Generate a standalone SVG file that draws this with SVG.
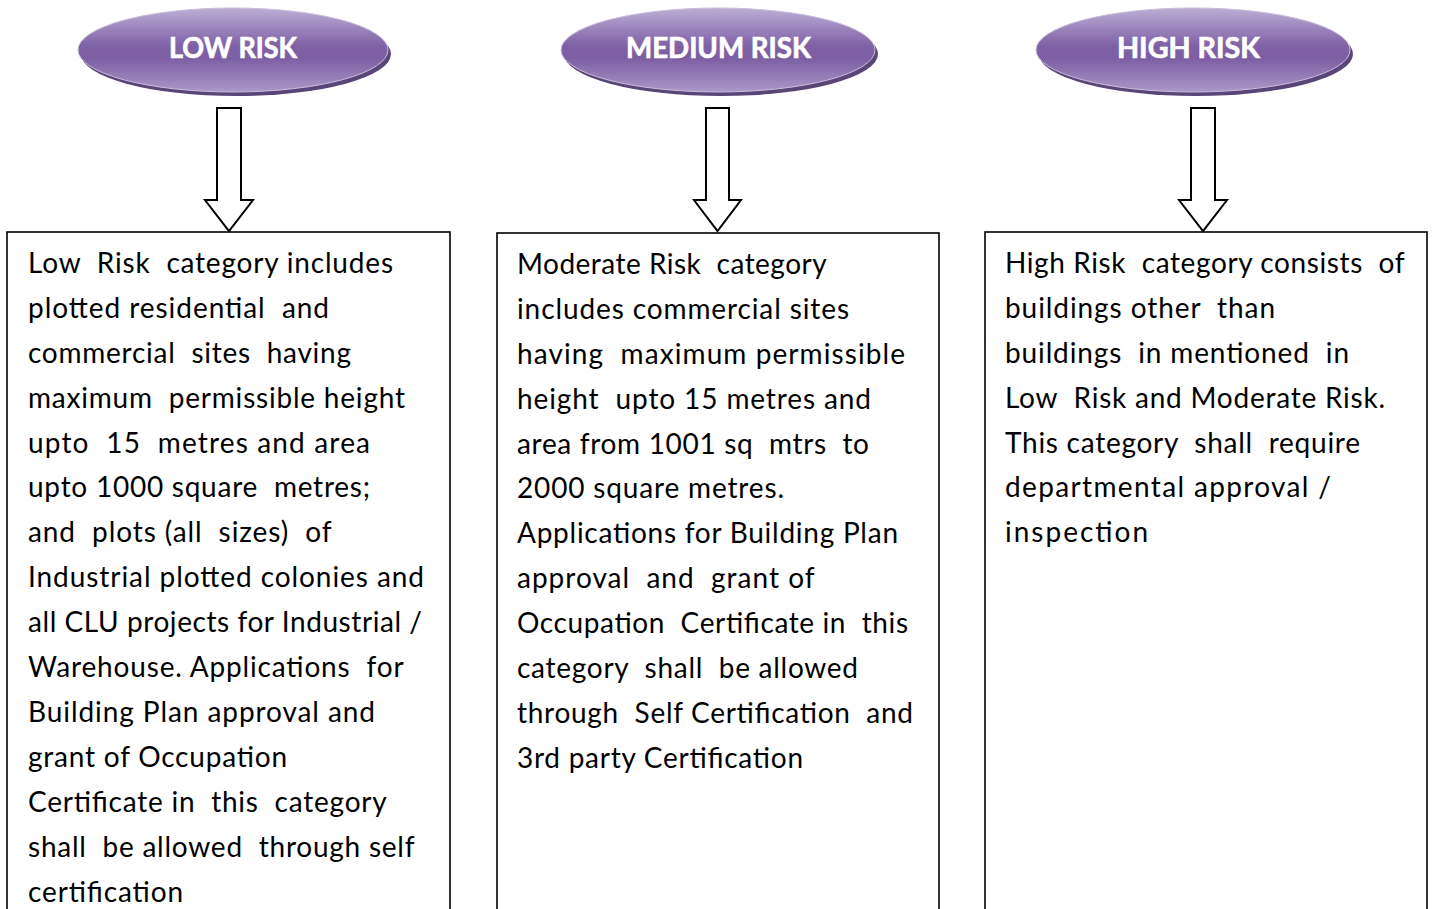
<svg xmlns="http://www.w3.org/2000/svg" width="1435" height="909" viewBox="0 0 1435 909">
<style>
.body{font-family:Lato,"Liberation Sans",sans-serif;font-size:28px;fill:#000}
.hdr{font-family:Lato,"Liberation Sans",sans-serif;font-size:29px;font-weight:bold;fill:#fff;stroke:#fff;stroke-width:0.7}
.box{fill:#fff;stroke:#000;stroke-width:1.6}
.arrow{fill:#fff;stroke:#000;stroke-width:2;stroke-linejoin:miter}
.shadow{fill:#5a4578}
.ell{fill:url(#pg);stroke:#c9bddc;stroke-width:1}
</style>
<defs>
<linearGradient id="pg" x1="0" y1="0" x2="0" y2="1">
<stop offset="0" stop-color="#bcaed6"/>
<stop offset="0.45" stop-color="#7f62a6"/>
<stop offset="0.6" stop-color="#7c5fa3"/>
<stop offset="1" stop-color="#ab98c9"/>
</linearGradient>
</defs>
<rect width="1435" height="909" fill="#fff"/>

<g id="connectors">
<polygon class="arrow" points="217,108 241,108 241,200 253,200 229,231 205,200 217,200"/>
<polygon class="arrow" points="706,108 729,108 729,200 741,200 717.5,231 694,200 706,200"/>
<polygon class="arrow" points="1191,108 1215,108 1215,200 1227,200 1203,231 1179,200 1191,200"/>
</g>

<g id="low-risk-header">
<ellipse class="shadow" cx="236" cy="54" rx="155" ry="42"/>
<ellipse class="ell" cx="233" cy="50" rx="155" ry="42"/>
<text class="hdr" x="233" y="58" text-anchor="middle" textLength="128" lengthAdjust="spacingAndGlyphs">LOW RISK</text>
</g>
<g id="medium-risk-header">
<ellipse class="shadow" cx="721" cy="54" rx="157" ry="42"/>
<ellipse class="ell" cx="718" cy="50" rx="157" ry="42"/>
<text class="hdr" x="718.5" y="58" text-anchor="middle" textLength="185" lengthAdjust="spacingAndGlyphs">MEDIUM RISK</text>
</g>
<g id="high-risk-header">
<ellipse class="shadow" cx="1196" cy="54" rx="157" ry="42"/>
<ellipse class="ell" cx="1193" cy="50" rx="157" ry="42"/>
<text class="hdr" x="1188.5" y="58" text-anchor="middle" textLength="143" lengthAdjust="spacingAndGlyphs">HIGH RISK</text>
</g>

<g id="low-risk-box">
<rect class="box" x="7" y="232" width="443" height="700"/>
<text class="body" xml:space="preserve">
<tspan x="28" y="273" textLength="365">Low  Risk  category includes</tspan>
<tspan x="28" y="318" textLength="301">plotted residential  and</tspan>
<tspan x="28" y="363" textLength="323">commercial  sites  having</tspan>
<tspan x="28" y="408" textLength="377">maximum  permissible height</tspan>
<tspan x="28" y="453" textLength="342">upto  15  metres and area</tspan>
<tspan x="28" y="497" textLength="342">upto 1000 square  metres;</tspan>
<tspan x="28" y="542" textLength="303">and  plots (all  sizes)  of</tspan>
<tspan x="28" y="587" textLength="396">Industrial plotted colonies and</tspan>
<tspan x="28" y="632" textLength="394">all CLU projects for Industrial /</tspan>
<tspan x="28" y="677" textLength="375">Warehouse. Applications  for</tspan>
<tspan x="28" y="722" textLength="347">Building Plan approval and</tspan>
<tspan x="28" y="767" textLength="259">grant of Occupation</tspan>
<tspan x="28" y="812" textLength="358">Certificate in  this  category</tspan>
<tspan x="28" y="857" textLength="386">shall  be allowed  through self</tspan>
<tspan x="28" y="902" textLength="155">certification</tspan>
</text>
</g>

<g id="medium-risk-box">
<rect class="box" x="497" y="233" width="442" height="700"/>
<text class="body" xml:space="preserve">
<tspan x="517" y="274" textLength="309">Moderate Risk  category</tspan>
<tspan x="517" y="319" textLength="332">includes commercial sites</tspan>
<tspan x="517" y="364" textLength="388">having  maximum permissible</tspan>
<tspan x="517" y="409" textLength="354">height  upto 15 metres and</tspan>
<tspan x="517" y="454" textLength="352">area from 1001 sq  mtrs  to</tspan>
<tspan x="517" y="498" textLength="267">2000 square metres.</tspan>
<tspan x="517" y="543" textLength="381">Applications for Building Plan</tspan>
<tspan x="517" y="588" textLength="297">approval  and  grant of</tspan>
<tspan x="517" y="633" textLength="391">Occupation  Certificate in  this</tspan>
<tspan x="517" y="678" textLength="341">category  shall  be allowed</tspan>
<tspan x="517" y="723" textLength="396">through  Self Certification  and</tspan>
<tspan x="517" y="768" textLength="286">3rd party Certification</tspan>
</text>
</g>

<g id="high-risk-box">
<rect class="box" x="985" y="232" width="442" height="700"/>
<text class="body" xml:space="preserve">
<tspan x="1005" y="273" textLength="399">High Risk  category consists  of</tspan>
<tspan x="1005" y="318" textLength="270">buildings other  than</tspan>
<tspan x="1005" y="363" textLength="344">buildings  in mentioned  in</tspan>
<tspan x="1005" y="408" textLength="380">Low  Risk and Moderate Risk.</tspan>
<tspan x="1005" y="453" textLength="355">This category  shall  require</tspan>
<tspan x="1005" y="497" textLength="326">departmental approval /</tspan>
<tspan x="1005" y="542" textLength="143">inspection</tspan>
</text>
</g>
</svg>
